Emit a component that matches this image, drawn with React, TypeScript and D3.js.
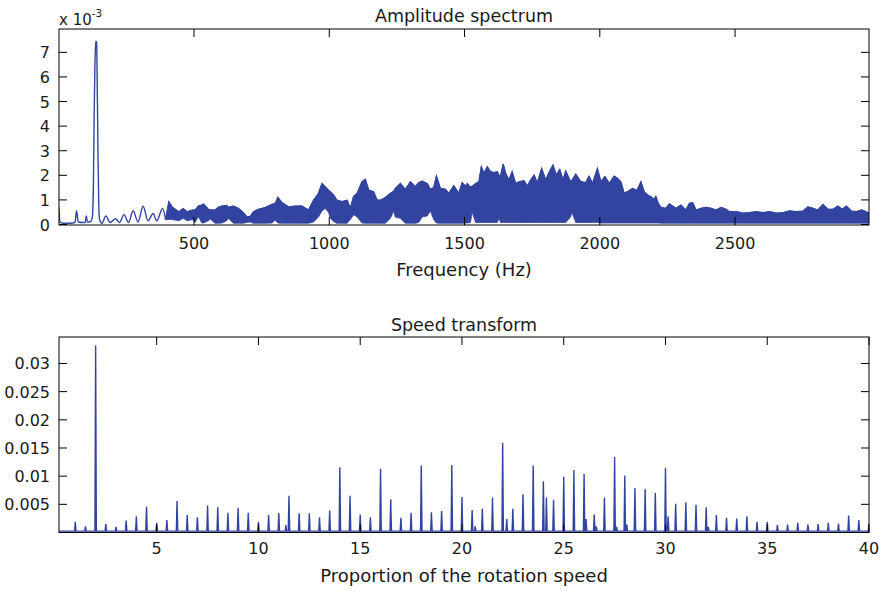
import React from "react";
import * as d3 from "d3";

// ---------- Top chart: amplitude spectrum (values in 1e-3) ----------
const specFreq = [0,5,15,40,60,66,72,90,98,102,106,118,124,128,131,134,137,140,142,145,148,151,160,174,190,210,225,241,258,275,293,312,330,349,362,384,395,
407,420,444,460,475,494,504,516,529,535,553,560,578,590,603,621,627,646,664,683,695,707,720,738,763,788,800,810,825,849,874,899,923,942,960,973,985,997,
1004,1016,1028,1047,1066,1078,1090,1103,1121,1133,1146,1164,1177,1189,1207,1226,1238,1244,1263,1281,1300,1318,1331,1343,1362,1374,1386,1396,1411,1430,1442,1460,1479,1491,
1504,1510,1522,1528,1541,1553,1562,1572,1584,1596,1609,1621,1627,1633,1643,1652,1664,1676,1689,1701,1720,1732,1744,1757,1769,1785,1800,1812,1827,1839,1852,1864,1874,1892,1897,1911,1930,1948,1960,1973,1991,
2004,2019,2035,2053,2065,2078,2090,2109,2121,2137,2152,2164,2177,2189,2201,2207,2216,2226,2244,2257,2269,2281,2300,2318,2331,2343,2356,2374,2393,2411,2430,2448,2467,2479,2491,
2510,2528,2553,2578,2603,2627,2652,2677,2701,2726,2751,2769,2788,2806,2825,2843,2862,2880,2896,2911,2930,2948,2967,2985,2995];

const specUpper = [0.7,0.1,0.05,0.05,0.08,0.56,0.1,0.08,0.1,0.35,0.1,0.12,0.3,1.5,4.5,6.6,7.45,7.4,6.0,3.0,0.8,0.2,0.05,0.35,0.08,0.24,0.08,0.4,0.08,0.56,0.1,0.74,0.15,0.45,0.15,0.65,0.2,
0.93,0.7,0.52,0.65,0.52,0.59,0.59,0.75,0.79,0.83,0.62,0.6,0.59,0.7,0.75,0.78,0.7,0.75,0.66,0.48,0.32,0.32,0.52,0.62,0.69,0.82,0.85,1.11,0.89,0.72,0.75,0.75,0.59,0.99,1.27,1.67,1.54,1.4,
1.33,1.2,0.99,0.93,0.99,0.66,1.15,1.27,1.74,1.84,1.4,1.33,0.99,0.99,1.1,1.27,1.35,1.47,1.67,1.43,1.74,1.54,1.71,1.76,1.67,1.43,1.5,1.97,1.47,1.43,1.27,1.58,1.27,1.7,
1.56,1.67,1.51,1.55,1.67,1.74,2.35,2.08,2.35,2.15,2.11,2.15,2.0,1.97,2.46,2.08,1.81,2.15,1.67,1.74,1.78,1.56,1.81,2.01,1.7,2.28,1.81,2.11,2.42,2.01,2.24,1.81,2.18,1.74,1.8,2.05,1.74,1.7,1.97,1.67,2.28,
1.74,1.95,1.67,1.97,1.88,1.74,1.27,1.38,1.47,1.38,1.74,1.33,1.2,1.13,1.02,1.15,0.86,0.7,0.66,0.84,0.75,0.66,0.79,0.59,0.86,0.89,0.59,0.66,0.7,0.66,0.59,0.7,0.62,0.52,0.52,
0.51,0.46,0.48,0.52,0.48,0.52,0.46,0.48,0.55,0.52,0.55,0.72,0.66,0.59,0.82,0.62,0.62,0.75,0.62,0.75,0.55,0.52,0.59,0.52,0.46];

const specLower = [0.7,0.1,0.05,0.05,0.08,0.56,0.1,0.08,0.1,0.35,0.1,0.12,0.3,1.5,4.5,6.6,7.45,7.4,6.0,3.0,0.8,0.2,0.05,0.35,0.08,0.24,0.08,0.4,0.08,0.56,0.1,0.74,0.15,0.45,0.15,0.65,0.2,
0.2,0.2,0.15,0.25,0.15,0.2,0.08,0.32,0.06,0.06,0.15,0.22,0.05,0.05,0.06,0.15,0.25,0.05,0.05,0.05,0.08,0.1,0.05,0.05,0.05,0.06,0.18,0.06,0.05,0.05,0.05,0.05,0.05,0.1,0.3,0.55,0.65,0.5,
0.25,0.12,0.05,0.05,0.05,0.2,0.4,0.3,0.06,0.05,0.05,0.05,0.05,0.05,0.05,0.25,0.55,0.3,0.25,0.05,0.05,0.05,0.08,0.3,0.35,0.55,0.2,0.06,0.05,0.05,0.05,0.05,0.05,0.05,
0.06,0.06,0.08,0.5,0.08,0.08,0.08,0.08,0.08,0.08,0.08,0.08,0.25,0.08,0.08,0.08,0.08,0.08,0.08,0.08,0.08,0.08,0.08,0.08,0.08,0.08,0.08,0.08,0.08,0.08,0.08,0.08,0.08,0.3,0.5,0.08,0.08,0.08,0.08,0.08,0.08,
0.06,0.06,0.06,0.06,0.06,0.06,0.06,0.06,0.06,0.06,0.06,0.06,0.06,0.06,0.06,0.06,0.06,0.05,0.05,0.05,0.05,0.05,0.05,0.05,0.05,0.05,0.05,0.05,0.05,0.05,0.05,0.05,0.05,0.05,0.05,
0.05,0.05,0.05,0.05,0.05,0.05,0.05,0.05,0.05,0.05,0.05,0.05,0.05,0.05,0.05,0.05,0.05,0.05,0.05,0.05,0.05,0.05,0.05,0.05,0.05];

const bandStart = 395; // Hz: below this the spectrum is a single thin trace

const topXTicks = [500, 1000, 1500, 2000, 2500];
const topYTicks = [0, 1, 2, 3, 4, 5, 6, 7];

// ---------- Bottom chart: speed transform ----------
const spikePos = [1.0,1.5,2.0,2.5,3.0,3.5,4.0,4.5,5.0,5.5,6.0,6.5,7.0,7.5,8.0,8.5,9.0,9.5,10.0,10.5,11.0,11.35,11.5,12.0,12.5,13.0,13.5,14.0,14.5,15.0,15.5,16.0,16.5,17.0,17.5,18.0,18.5,19.0,19.5,20.0,20.5,20.65,21.0,21.5,22.0,22.2,22.5,23.0,23.5,24.0,24.15,24.5,25.0,25.5,26.0,26.1,26.5,26.6,27.0,27.5,27.6,28.0,28.1,28.5,29.0,29.5,30.0,30.13,30.5,31.0,31.5,32.0,32.1,32.5,33.0,33.5,34.0,34.5,35.0,35.5,36.0,36.5,37.0,37.5,38.0,38.5,39.0,39.5,40.0];
const spikeHeight = [0.0019,0.0011,0.0332,0.0015,0.0010,0.0021,0.0029,0.0046,0.0017,0.0022,0.0056,0.0031,0.0027,0.0048,0.0045,0.0035,0.0044,0.0035,0.00185,0.0031,0.00345,0.0013,0.0065,0.0034,0.0034,0.0027,0.0039,0.0116,0.0065,0.0032,0.0027,0.0113,0.0059,0.0026,0.0035,0.0119,0.0036,0.0038,0.0120,0.0063,0.0040,0.0011,0.0042,0.0062,0.0159,0.0024,0.0042,0.0068,0.0119,0.0091,0.0062,0.0058,0.0099,0.0111,0.0104,0.0024,0.0032,0.0011,0.0062,0.0134,0.0010,0.0101,0.0014,0.0079,0.0077,0.0070,0.0115,0.0029,0.0051,0.00535,0.0049,0.0045,0.0010,0.0031,0.0026,0.0025,0.0029,0.0019,0.0019,0.0013,0.0014,0.0017,0.0014,0.0015,0.0017,0.0016,0.0030,0.0022,0.0016];
const noiseFloor = 0.00025;

const botXTicks = [5, 10, 15, 20, 25, 30, 35, 40];
const botYTicks = [0.005, 0.01, 0.015, 0.02, 0.025, 0.03];

const BLUE = "#3244a0";
const FONT = "DejaVu Sans, sans-serif";
const TICK = 8;

export default function App() {
  const L = 59, R = 869;
  // top panel
  const tT = 29, tB = 225;
  const xTop = d3.scaleLinear().domain([1, 2995]).range([L, R]);
  const yTop = d3.scaleLinear().domain([0, 7.95]).range([224.5, tT]);
  const specData = specFreq.map((f, i) => ({ f, lo: specLower[i], hi: specUpper[i] }));
  const lowPart = specData.filter(d => d.f <= bandStart);
  const bandPart = specData.filter(d => d.f >= bandStart);
  const lowLine = d3.line<any>().x(d => xTop(d.f)).y(d => yTop(d.hi)).curve(d3.curveMonotoneX);
  const area = d3.area<any>().x(d => xTop(d.f)).y0(d => yTop(d.lo)).y1(d => yTop(d.hi));
  const upLine = d3.line<any>().x(d => xTop(d.f)).y(d => yTop(d.hi));

  // bottom panel
  const bT = 337, bB = 532.5;
  const xBot = d3.scaleLinear().domain([0.2, 40]).range([L, R]);
  const yBot = d3.scaleLinear().domain([0, 0.0347]).range([bB, bT]);
  const pts: [number, number][] = [[0.2, noiseFloor]];
  spikePos.forEach((p, i) => {
    pts.push([p - 0.035, noiseFloor], [p, spikeHeight[i]], [p + 0.035, noiseFloor]);
  });
  pts.push([40, noiseFloor]);
  const botLine = d3.line<[number, number]>().x(d => xBot(d[0])).y(d => yBot(d[1]));

  const txt = { fontFamily: FONT, fill: "#1a1a1a" } as const;

  return (
    <svg width={880} height={591} style={{ position: "absolute", left: 0, top: 0, background: "#fff" }}>
      <rect x={0} y={0} width={880} height={591} fill="#fff" />
      {/* ===== Top panel ===== */}
      <text x={(L + R) / 2} y={22} textAnchor="middle" fontSize={17.5} {...txt}>Amplitude spectrum</text>
      <text x={59} y={25} fontSize={15} {...txt}>x 10<tspan dy={-8} fontSize={10.5}>-3</tspan></text>
      <defs>
        <clipPath id="clipTop"><rect x={L} y={tT} width={R - L} height={tB - tT} /></clipPath>
        <clipPath id="clipBot"><rect x={L} y={bT} width={R - L} height={bB - bT} /></clipPath>
      </defs>
      <g clipPath="url(#clipTop)">
        <path d={lowLine(lowPart) || ""} fill="none" stroke={BLUE} strokeWidth={1.4} />
        <path d={area(bandPart) || ""} fill={BLUE} stroke={BLUE} strokeWidth={0.8} />
        <path d={upLine(bandPart) || ""} fill="none" stroke={BLUE} strokeWidth={1.2} />
      </g>
      <rect x={L} y={tT} width={R - L} height={tB - tT} fill="none" stroke="#000" strokeWidth={1} />
      {topXTicks.map(t => (
        <g key={"tx" + t}>
          <line x1={xTop(t)} x2={xTop(t)} y1={tB} y2={tB - TICK} stroke="#000" />
          <line x1={xTop(t)} x2={xTop(t)} y1={tT} y2={tT + TICK} stroke="#000" />
          <text x={xTop(t)} y={249} textAnchor="middle" fontSize={16} {...txt}>{t}</text>
        </g>
      ))}
      {topYTicks.map(t => (
        <g key={"ty" + t}>
          <line x1={L} x2={L + TICK} y1={yTop(t)} y2={yTop(t)} stroke="#000" />
          <line x1={R} x2={R - TICK} y1={yTop(t)} y2={yTop(t)} stroke="#000" />
          <text x={50} y={yTop(t) + 6} textAnchor="end" fontSize={16} {...txt}>{t}</text>
        </g>
      ))}
      <text x={(L + R) / 2} y={276} textAnchor="middle" fontSize={18} {...txt}>Frequency (Hz)</text>

      {/* ===== Bottom panel ===== */}
      <text x={(L + R) / 2} y={331} textAnchor="middle" fontSize={17.5} {...txt}>Speed transform</text>
      <g clipPath="url(#clipBot)">
        <path d={botLine(pts) || ""} fill="none" stroke={BLUE} strokeWidth={1.4} />
      </g>
      <rect x={L} y={bT} width={R - L} height={bB - bT} fill="none" stroke="#000" strokeWidth={1} />
      {botXTicks.map(t => (
        <g key={"bx" + t}>
          <line x1={xBot(t)} x2={xBot(t)} y1={bB} y2={bB - TICK} stroke="#000" />
          <line x1={xBot(t)} x2={xBot(t)} y1={bT} y2={bT + TICK} stroke="#000" />
          <text x={xBot(t)} y={554} textAnchor="middle" fontSize={16} {...txt}>{t}</text>
        </g>
      ))}
      {botYTicks.map(t => (
        <g key={"by" + t}>
          <line x1={L} x2={L + TICK} y1={yBot(t)} y2={yBot(t)} stroke="#000" />
          <line x1={R} x2={R - TICK} y1={yBot(t)} y2={yBot(t)} stroke="#000" />
          <text x={50} y={yBot(t) + 6} textAnchor="end" fontSize={16} {...txt}>{t}</text>
        </g>
      ))}
      <text x={(L + R) / 2} y={582} textAnchor="middle" fontSize={18} {...txt}>Proportion of the rotation speed</text>
    </svg>
  );
}
